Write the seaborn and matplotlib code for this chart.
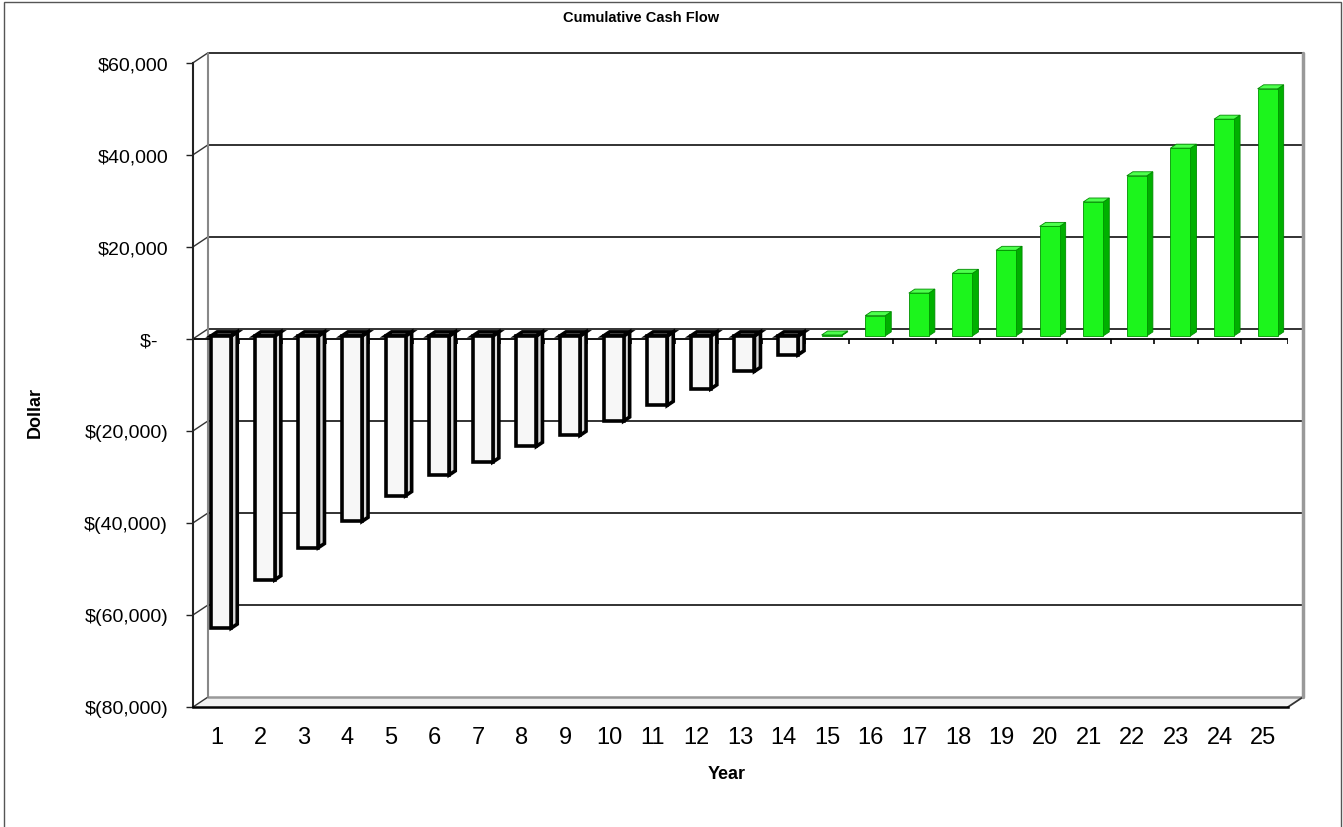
import numpy as np
import pandas as pd
import matplotlib
matplotlib.use("Agg")
import matplotlib.pyplot as plt
from matplotlib.patches import Polygon, Rectangle
from matplotlib.transforms import Affine2D
import seaborn as sns

# values
years = [str(y) for y in range(1, 26)]
cash_flow = [-63500, -53000, -46000, -40300, -34700, -30200, -27400, -24000,
             -21600, -18500, -15100, -11500, -7700, -4100, 200, 4400, 9300,
             13600, 18600, 23800, 29100, 34800, 40800, 47100, 53700]
y_ticks = [60000, 40000, 20000, 0, -20000, -40000, -60000, -80000]


def dollar(v):
    if v == 0:
        return "$-  "
    if v < 0:
        return f"$({-v:,.0f})"
    return f"${v:,.0f}"


sns.set_style("white")
plt.rcParams["font.family"] = ["Liberation Sans", "DejaVu Sans"]
plt.rcParams["text.color"] = "black"
plt.rcParams["xtick.color"] = "black"
plt.rcParams["ytick.color"] = "black"

df = pd.DataFrame({"year": years, "cash": cash_flow})
df["sign"] = np.where(df["cash"] < 0, "neg", "pos")

W, H = 1343, 828
fig = plt.figure(figsize=(W / 100, H / 100), dpi=100)
ax = fig.add_axes([193 / W, 1 - 708 / H, (1288 - 193) / W, (708 - 63.8) / H])

XMIN, XMAX = -0.544, 24.57
YMIN, YMAX = -80000, 60000
DX, DY = 0.344, 2170      # full depth of the 3-D box, in data units
FRONT, DEPTH = 0.3, 0.4   # bar front plane and bar thickness (fraction of depth)

sns.barplot(data=df, x="year", y="cash", hue="sign", order=years,
            palette={"neg": "#f7f7f7", "pos": "#1cf51c"}, saturation=1,
            dodge=False, legend=False, width=0.46, ax=ax, zorder=4)

shift = Affine2D().translate(FRONT * DX, FRONT * DY) + ax.transData
ddx, ddy = DEPTH * DX, DEPTH * DY
for cont in ax.containers:
    for bar in cont:
        x0, w = bar.get_x(), bar.get_width()
        y0, h = bar.get_y(), bar.get_height()
        lo, hi = min(y0, y0 + h), max(y0, y0 + h)
        neg = (y0 + h) < 0
        if neg:
            fc_side, fc_top, ec, lw = "#d8d8d8", "#cfcfcf", "black", 2.6
            bar.set_edgecolor("black")
            bar.set_linewidth(2.6)
        else:
            fc_side, fc_top, ec, lw = "#00b000", "#4dff4d", "#008a00", 0.6
            bar.set_edgecolor("#009000")
            bar.set_linewidth(0.6)
        bar.set_transform(shift)
        bar.set_clip_on(False)
        side = Polygon([(x0 + w, lo), (x0 + w + ddx, lo + ddy),
                        (x0 + w + ddx, hi + ddy), (x0 + w, hi)],
                       closed=True, facecolor=fc_side, edgecolor=ec, lw=lw,
                       transform=shift, zorder=3, clip_on=False)
        top = Polygon([(x0, hi), (x0 + ddx, hi + ddy),
                       (x0 + w + ddx, hi + ddy), (x0 + w, hi)],
                      closed=True, facecolor=fc_top, edgecolor=ec, lw=lw,
                      transform=shift, zorder=3, clip_on=False)
        ax.add_patch(side)
        ax.add_patch(top)

# floor
floor = Polygon([(XMIN, YMIN), (XMAX, YMIN), (XMAX + DX, YMIN + DY),
                 (XMIN + DX, YMIN + DY)], closed=True, facecolor="#f1f1f1",
                edgecolor="none", zorder=0.5, clip_on=False)
ax.add_patch(floor)
ax.plot([XMIN + DX, XMAX + DX], [YMIN + DY, YMIN + DY], color="#999999", lw=1.8, zorder=1, clip_on=False)
ax.plot([XMAX, XMAX + DX], [YMIN, YMIN + DY], color="#333333", lw=1.3, zorder=1, clip_on=False)

# back wall gridlines, edges and side-wall connectors
for t in y_ticks[:-1]:
    ax.plot([XMIN + DX, XMAX + DX], [t + DY, t + DY], color="#222222", lw=1.3, zorder=1, clip_on=False)
for t in y_ticks:
    ax.plot([XMIN, XMIN + DX], [t, t + DY], color="#333333", lw=1.0, zorder=1, clip_on=False)
ax.plot([XMIN + DX] * 2, [YMIN + DY, YMAX + DY], color="#888888", lw=1.5, zorder=1, clip_on=False)
ax.plot([XMAX + DX] * 2, [YMIN + DY, YMAX + DY], color="#999999", lw=2.5, zorder=1, clip_on=False)

# category axis at zero with boundary ticks
ax.axhline(0, color="black", lw=1.3, zorder=2)
ax.vlines(list(np.arange(0.5, 24.5, 1.0)) + [XMAX], -1200, 0, color="black", lw=1.2, zorder=2)

ax.set_xlim(XMIN, XMAX)
ax.set_ylim(YMIN, YMAX)
ax.set_yticks(y_ticks)
ax.set_yticklabels([dollar(t) for t in y_ticks])
ax.set_xticks(range(len(years)))
ax.set_xticklabels(years)
ax.set_xlabel("")
ax.set_ylabel("")
ax.tick_params(axis="y", length=5, width=1, color="#222222", labelcolor="black",
               pad=13, labelsize=14, left=True)
ax.tick_params(axis="x", length=0, pad=14, labelsize=17, labelcolor="black")
ax.set_facecolor("none")
for s in ["top", "right"]:
    ax.spines[s].set_visible(False)
ax.spines["left"].set_color("#222222")
ax.spines["left"].set_linewidth(1.5)
ax.spines["bottom"].set_color("black")
ax.spines["bottom"].set_linewidth(1.8)

fig.text(641.5 / W, 1 - 18 / H, "Cumulative Cash Flow", ha="center", va="center",
         fontsize=10.5, fontweight="bold", color="black")
fig.text(35 / W, 1 - 413 / H, "Dollar", rotation=90, ha="center", va="center",
         fontsize=13, fontweight="bold", color="black")
fig.text(727 / W, 1 - 775 / H, "Year", ha="center", va="center",
         fontsize=13, fontweight="bold", color="black")

fig.add_artist(Rectangle((4 / W, -0.01), (1340.7 - 4) / W, 1 - 2.5 / H + 0.01,
                         transform=fig.transFigure, fill=False,
                         edgecolor="#555555", lw=1))

fig.savefig("out.png", dpi=100, facecolor="white")
